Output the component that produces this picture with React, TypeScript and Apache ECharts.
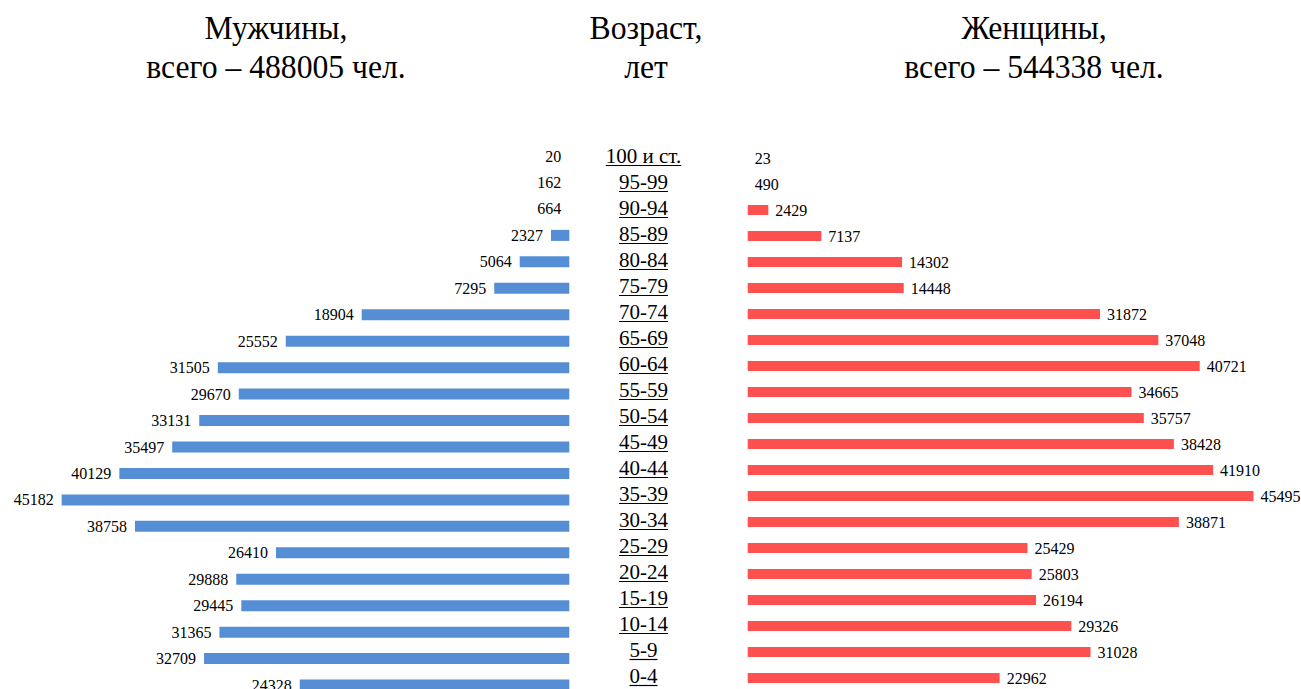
import React, { useEffect, useRef } from 'react';
import * as echarts from 'echarts';

// Age groups, from the oldest (top row) down to the youngest
const ageGroups = [
  '100 и ст.', '95-99', '90-94', '85-89', '80-84', '75-79', '70-74', '65-69',
  '60-64', '55-59', '50-54', '45-49', '40-44', '35-39', '30-34', '25-29',
  '20-24', '15-19', '10-14', '5-9', '0-4',
];

// Population by age group, persons
const menCounts = [
  20, 162, 664, 2327, 5064, 7295, 18904, 25552, 31505, 29670, 33131, 35497,
  40129, 45182, 38758, 26410, 29888, 29445, 31365, 32709, 24328,
];
const womenCounts = [
  23, 490, 2429, 7137, 14302, 14448, 31872, 37048, 40721, 34665, 35757, 38428,
  41910, 45495, 38871, 25429, 25803, 26194, 29326, 31028, 22962,
];

// Column headings
const menTitle = ['Мужчины,', 'всего – 488005 чел.'];
const ageTitle = ['Возраст,', 'лет'];
const womenTitle = ['Женщины,', 'всего – 544338 чел.'];

// Value axis ranges (bars start at the axis minimum)
const MEN_MIN = 720;
const WOMEN_MIN = 600;
const AXIS_MAX = 46000;

const SERIF = '"Liberation Serif", "Times New Roman", serif';
const MEN_COLOR = '#558ED5';
const WOMEN_COLOR = '#FF5050';

const measureText = (text: string, font: string): number => {
  const ctx = document.createElement('canvas').getContext('2d');
  if (!ctx) return text.length * 10;
  ctx.font = font;
  return ctx.measureText(text).width;
};

const headingTexts = (lines: string[], cx: number) =>
  lines.map((line, i) => ({
    type: 'text',
    x: cx,
    y: i === 0 ? 28 : 67,
    scaleX: 0.96,
    silent: true,
    style: {
      text: line,
      font: `33px ${SERIF}`,
      fill: '#000',
      align: 'center',
      verticalAlign: 'middle',
    },
  }));

const valueLabel = (position: 'left' | 'right', distance: number) => ({
  show: true,
  position,
  distance,
  color: '#000',
  fontFamily: SERIF,
  fontSize: 16,
});

export default function App() {
  const ref = useRef<HTMLDivElement>(null);

  useEffect(() => {
    if (!ref.current) return;
    const chart = echarts.init(ref.current, null, { renderer: 'svg' });
    const ageFont = `21px ${SERIF}`;
    const ageCenterX = 643.5;

    const option: any = {
      animation: false,
      backgroundColor: '#fff',
      textStyle: { fontFamily: SERIF },
      grid: [
        { left: 52.3, width: 517, top: 142.8, height: 555.5, outerBoundsMode: 'none' },
        { left: 747.7, width: 511.5, top: 145, height: 546, outerBoundsMode: 'none' },
      ],
      xAxis: [
        {
          type: 'value', gridIndex: 0, min: MEN_MIN, max: AXIS_MAX,
          startValue: MEN_MIN, inverse: true, show: false,
        },
        {
          type: 'value', gridIndex: 1, min: WOMEN_MIN, max: AXIS_MAX,
          startValue: WOMEN_MIN, show: false,
        },
      ],
      yAxis: [
        { type: 'category', gridIndex: 0, data: ageGroups, inverse: true, show: false },
        { type: 'category', gridIndex: 1, data: ageGroups, inverse: true, show: false },
      ],
      graphic: [
        ...headingTexts(menTitle, 276),
        ...headingTexts(ageTitle, 646),
        ...headingTexts(womenTitle, 1034),
      ],
      series: [
        {
          name: 'Мужчины',
          type: 'bar',
          xAxisIndex: 0,
          yAxisIndex: 0,
          barWidth: 11,
          clip: false,
          itemStyle: { color: MEN_COLOR },
          data: menCounts.map((v) => ({
            value: v,
            itemStyle: v < MEN_MIN ? { color: 'rgba(0,0,0,0)' } : undefined,
          })),
          label: valueLabel('left', 8),
        },
        {
          name: 'Женщины',
          type: 'bar',
          xAxisIndex: 1,
          yAxisIndex: 1,
          barWidth: 10,
          clip: false,
          itemStyle: { color: WOMEN_COLOR },
          data: womenCounts.map((v) => ({
            value: v,
            itemStyle: v < WOMEN_MIN ? { color: 'rgba(0,0,0,0)' } : undefined,
          })),
          label: valueLabel('right', 7),
        },
        {
          // underlined age-group captions in the middle column
          name: 'Возраст',
          type: 'custom',
          xAxisIndex: 1,
          yAxisIndex: 1,
          silent: true,
          data: ageGroups.map((_, i) => [WOMEN_MIN, i]),
          renderItem: (params: any, api: any) => {
            const pt = api.coord([api.value(0), api.value(1)]);
            const text = ageGroups[params.dataIndex];
            const w = measureText(text, ageFont);
            const y = pt[1] - 2;
            return {
              type: 'group',
              children: [
                {
                  type: 'text',
                  x: ageCenterX,
                  y,
                  style: {
                    text,
                    font: ageFont,
                    fill: '#000',
                    align: 'center',
                    verticalAlign: 'middle',
                  },
                },
                {
                  type: 'line',
                  shape: {
                    x1: ageCenterX - w / 2,
                    y1: y + 9.5,
                    x2: ageCenterX + w / 2,
                    y2: y + 9.5,
                  },
                  style: { stroke: '#000', lineWidth: 1.2 },
                },
              ],
            };
          },
        },
      ],
    };

    chart.setOption(option);
    return () => chart.dispose();
  }, []);

  return (
    <div
      ref={ref}
      style={{ position: 'absolute', left: 0, top: 0, width: 1301, height: 689, background: '#fff' }}
    />
  );
}
